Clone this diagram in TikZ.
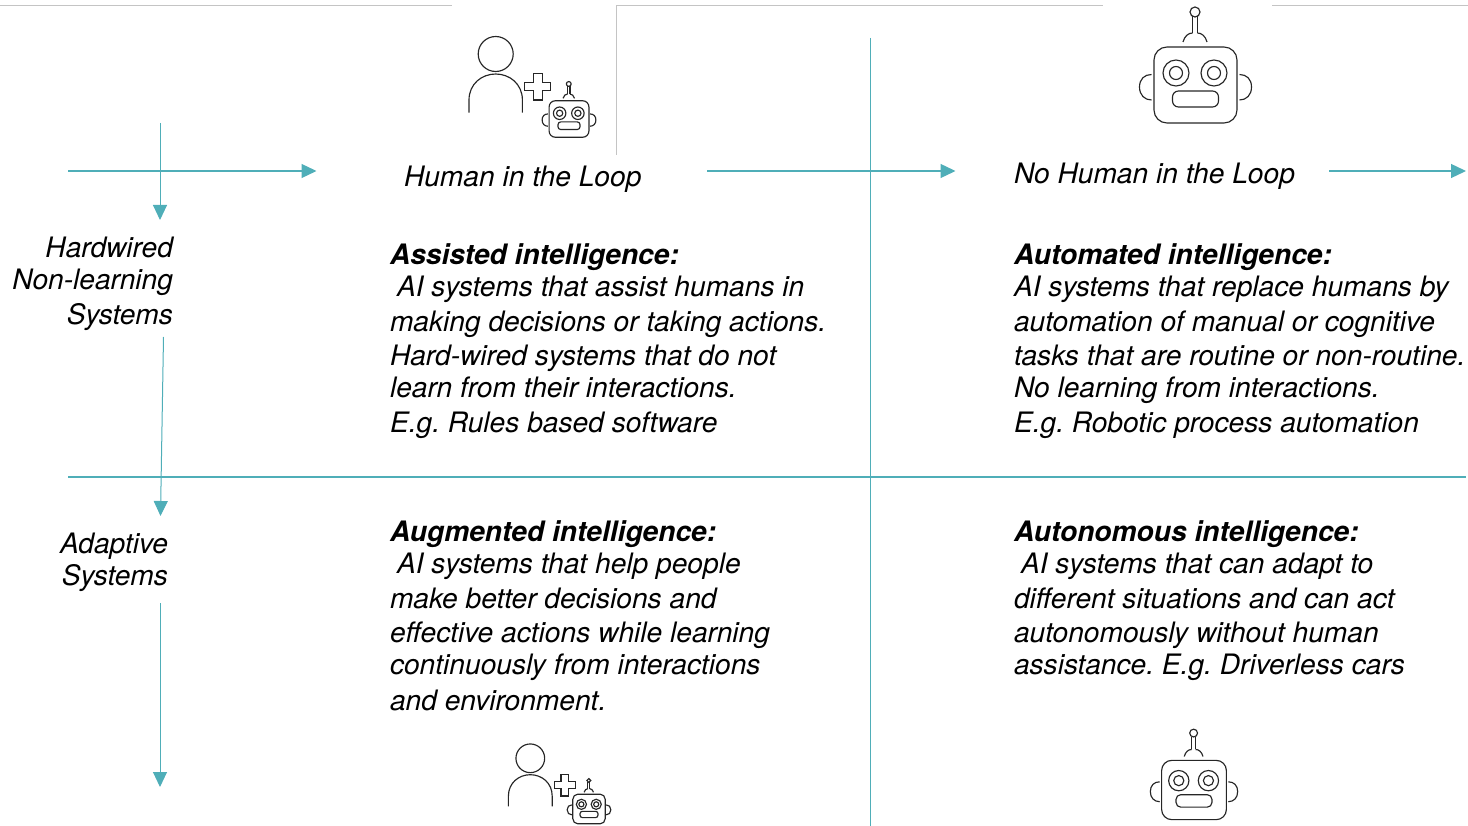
\documentclass[tikz,border=0pt]{standalone}
\usepackage{fontspec}
\setmainfont{TeX Gyre Heros}
\frenchspacing
\usetikzlibrary{arrows.meta}
\definecolor{teal1}{HTML}{4FAEB8}
\definecolor{rule1}{HTML}{C4C4C4}
\tikzset{
 axis/.style={draw=teal1,line width=1pt},
 axisarrow/.style={axis,-{Triangle[length=15pt,width=14pt,fill=teal1]}},
 haxis/.style={draw=teal1,line width=1.3pt},
 haxisarrow/.style={haxis,-{Triangle[length=15pt,width=14pt,fill=teal1]}},
 frameline/.style={draw=rule1,line width=0.9pt},
 icon/.style={draw=black!85,line width=1.15pt,fill=none},
 body/.style={inner sep=0pt,outer sep=0pt,anchor=north west,align=left,font=\fontsize{28.15}{34}\selectfont\itshape,text=black},
 head/.style={inner sep=0pt,outer sep=0pt,anchor=north west,align=left,font=\fontsize{28.15}{34}\selectfont\bfseries\itshape,text=black},
 side/.style={inner sep=0pt,outer sep=0pt,anchor=north east,align=right,font=\fontsize{28.15}{32}\selectfont\itshape,text=black},
 column/.style={inner sep=0pt,outer sep=0pt,anchor=base west,font=\fontsize{28.15}{30}\selectfont\itshape,text=black},
}
\newcommand{\robotshape}[3]{%
 \begin{scope}[shift={(#1,#2)},x=#3pt,y=-#3pt]
  \draw[icon] (-41.5,-38) [rounded corners=#3*13pt] rectangle (41.5,38);
  \draw[icon] (-19.5,-12) circle[radius=13];
  \draw[icon] (-19.5,-12) circle[radius=6.5];
  \draw[icon] (18.5,-12) circle[radius=13];
  \draw[icon] (18.5,-12) circle[radius=6.5];
  \draw[icon] (-23,6) [rounded corners=#3*6pt] rectangle (23,22);
  \draw[icon] (-44,-10.5) .. controls (-51,-10.5) and (-56,-6) .. (-56,2) .. controls (-56,10) and (-51,15) .. (-44,15);
  \draw[icon] (44,-10.5) .. controls (51,-10.5) and (56,-6) .. (56,2) .. controls (56,10) and (51,15) .. (44,15);
  \draw[icon] (-0.5,-73) circle[radius=5];
  \draw[icon] (-3,-68.5) -- (-3,-52) (2,-68.5) -- (2,-52);
  \draw[icon] (-12.5,-43) .. controls (-11,-49) and (-7,-52) .. (-3,-52) (2,-52) .. controls (6,-52) and (10,-49) .. (11.5,-43);
 \end{scope}}
\newcommand{\personshape}[3]{%
 \begin{scope}[shift={(#1,#2)},x=#3pt,y=-#3pt]
  \draw[icon] (0,0) circle[radius=17.5];
  \draw[icon] (-26.7,58.7) -- (-26.7,46) .. controls (-26.7,30) and (-14,20) .. (0,20) .. controls (14,20) and (26.7,30) .. (26.7,46) -- (26.7,58.7);
  \draw[icon] (37.5,19.5) -- (46.5,19.5) -- (46.5,28.5) -- (55,28.5) -- (55,36.5) -- (46.5,36.5) -- (46.5,46) -- (37.5,46) -- (37.5,36.5) -- (29,36.5) -- (29,28.5) -- (37.5,28.5) -- cycle;
 \end{scope}}
\begin{document}
\begin{tikzpicture}[x=1pt,y=-1pt]
\useasboundingbox (0,0) rectangle (1468,826);
% top rules
\coordinate (ta) at (0,5); \coordinate (tb) at (452,5);
\coordinate (tc) at (616,5); \coordinate (td) at (1103,5);
\coordinate (te) at (1272,5); \coordinate (tf) at (1468,5);
\coordinate (tg) at (616,155);
\draw[frameline] (ta) -- (tb);
\draw[frameline] (tg) -- (tc) -- (td);
\draw[frameline] (te) -- (tf);
% axes
\coordinate (h1a) at (68,171); \coordinate (h1b) at (316.5,171);
\coordinate (h2a) at (707,171); \coordinate (h2b) at (955.5,171);
\coordinate (h3a) at (1329,171); \coordinate (h3b) at (1466,171);
\coordinate (v1a) at (160,123); \coordinate (v1b) at (160,220);
\coordinate (v2a) at (163.5,337); \coordinate (v2b) at (160.5,516);
\coordinate (v3a) at (160,603); \coordinate (v3b) at (160,787);
\coordinate (ma) at (68,477); \coordinate (mb) at (1466,477);
\coordinate (ca) at (870,38); \coordinate (cb) at (870,826);
\draw[haxisarrow] (h1a) -- (h1b);
\draw[haxisarrow] (h2a) -- (h2b);
\draw[haxisarrow] (h3a) -- (h3b);
\draw[axisarrow] (v1a) -- (v1b);
\draw[axisarrow] (v2a) -- (v2b);
\draw[axisarrow] (v3a) -- (v3b);
\draw[haxis] (ma) -- (mb);
\draw[axis] (ca) -- (cb);
% icons
\personshape{495.7}{54}{1}
\robotshape{569}{119}{0.48}
\robotshape{1195.5}{85}{1}
\personshape{530.3}{758.3}{0.82}
\robotshape{589}{809}{0.39}
\robotshape{1194}{790}{0.78}
% column labels
\node[column] (c1) at (404,187) {Human in the Loop};
\node[column] (c2) at (1014,184) {No Human in the Loop};
% side labels
\node[side] (s1) at (173,237) {Hardwired\\[0pt]Non-learning\\[3pt]Systems};
\node[side] (s2) at (168,533) {Adaptive\\Systems};
% quadrants
\node[head] (q1h) at (390,244) {Assisted intelligence:};
\node[body] (q1) at (390,276) {\hspace*{7pt}AI systems that assist humans in\\[1pt]making decisions or taking actions.\\Hard-wired systems that do not\\[-2pt]learn from their interactions.\\[1pt]E.g. Rules based software};
\node[head] (q2h) at (1014,244) {Automated intelligence:};
\node[body] (q2) at (1014,276) {AI systems that replace humans by\\[1pt]automation of manual or cognitive\\tasks that are routine or non-routine.\\[-2pt]No learning from interactions.\\[1pt]E.g. Robotic process automation};
\node[head] (q3h) at (390,521) {Augmented intelligence:};
\node[body] (q3) at (390,553) {\hspace*{7pt}AI systems that help people\\[1pt]make better decisions and\\effective actions while learning\\[-2pt]continuously from interactions\\[2pt]and environment.};
\node[head] (q4h) at (1014,521) {Autonomous intelligence:};
\node[body] (q4) at (1014,553) {\hspace*{7pt}AI systems that can adapt to\\[1pt]different situations and can act\\autonomously without human\\[-2pt]assistance. E.g. Driverless cars};
\end{tikzpicture}
\end{document}
